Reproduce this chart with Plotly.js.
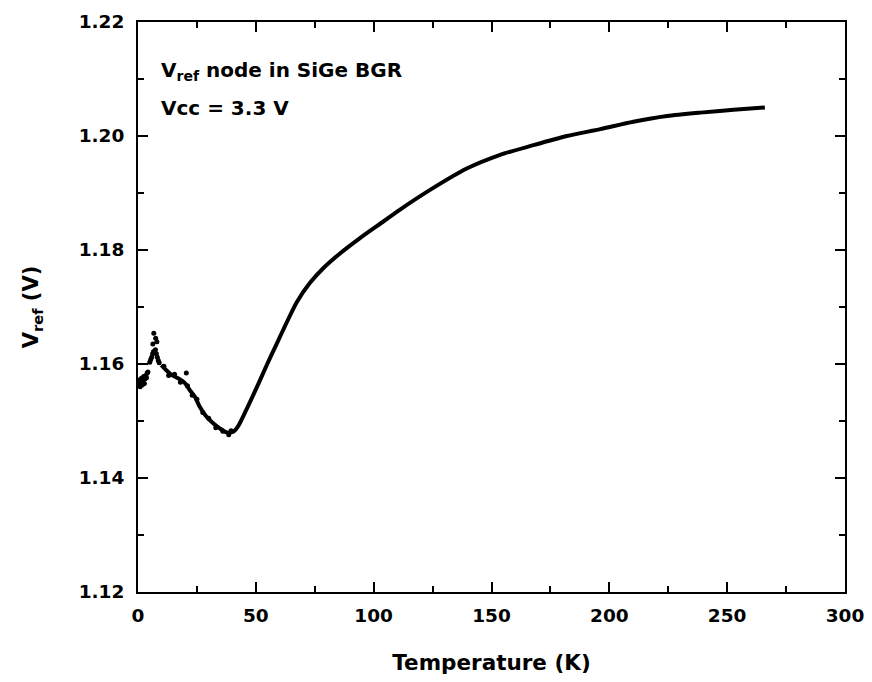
<!DOCTYPE html>
<html>
<head>
<meta charset="utf-8">
<script src="https://cdn.plot.ly/plotly-3.0.1.min.js"></script>
<style>html,body{margin:0;padding:0;background:#fff;}</style>
</head>
<body>
<div id="chart" style="width:872px;height:682px;"></div>
<script>
// Smooth part of the measured curve (Temperature K, Vref V)
const tempSmooth = [9.9,12,14.2,17,19.8,22,24.1,26.2,29,31.9,34.7,37.6,40.4,42.5,46,50.3,54.5,58.8,63,67.3,72.9,78.6,85.7,94.2,104.1,111.2,125.3,139.5,153.7,167.8,182,196.1,210.2,224.5,238.6,252.7,266];
const vrefSmooth = [1.1598,1.1589,1.1581,1.1575,1.1567,1.1554,1.1543,1.1525,1.1508,1.1496,1.1487,1.1480,1.1481,1.1491,1.1520,1.1558,1.1597,1.1635,1.1672,1.1708,1.1742,1.1768,1.1794,1.1821,1.1850,1.1871,1.1909,1.1943,1.1967,1.1984,1.2000,1.2012,1.2025,1.2035,1.2041,1.2046,1.2050];

// Noisy low-temperature scatter points
const tempNoisy = [0.3,0.6,0.9,1.2,1.5,1.8,2.1,2.4,2.7,3.0,3.3,3.6,3.9,4.2,5.0,5.4,5.8,6.2,6.6,7.0,7.4,7.8,8.2,8.6,9.0,6.7,6.3,8.0,7.5,20.5,11,13,15.5,18,21,23,25,27.5,30,33,36,38.5,39.5];
const vrefNoisy = [1.1565,1.1572,1.1560,1.1568,1.1575,1.1563,1.1570,1.1578,1.1566,1.1574,1.1580,1.1576,1.1584,1.1586,1.1603,1.1608,1.1612,1.1618,1.1622,1.1620,1.1625,1.1618,1.1612,1.1606,1.1602,1.1654,1.1635,1.1639,1.1645,1.1584,1.1596,1.1580,1.1582,1.1568,1.1562,1.1545,1.1538,1.1515,1.1505,1.1488,1.1482,1.1476,1.1483];

const xTicks = [0,50,100,150,200,250,300];
const yTicks = [1.12,1.14,1.16,1.18,1.20,1.22];
const yTickText = ["1.12","1.14","1.16","1.18","1.20","1.22"];

const FONT = "DejaVu Sans, Arial, sans-serif";

const traces = [
  {x: tempSmooth, y: vrefSmooth, mode: 'lines', line: {color: '#000', width: 4, shape: 'spline', smoothing: 0.7}, hoverinfo: 'skip', showlegend: false},
  {x: tempNoisy, y: vrefNoisy, mode: 'markers', marker: {color: '#000', size: 5}, hoverinfo: 'skip', showlegend: false}
];

const axisCommon = {
  showgrid: false, zeroline: false, showline: true, linecolor: '#000', linewidth: 2,
  mirror: 'ticks', ticks: 'inside', ticklen: 10, tickwidth: 2, tickcolor: '#000',
  tickfont: {family: FONT, size: 18.5, color: '#000', weight: 'bold'},
  minor: {ticks: 'inside', ticklen: 6, tickwidth: 2, tickcolor: '#000'}
};

const layout = {
  width: 872, height: 682,
  margin: {l: 138, r: 27, t: 22, b: 90},
  paper_bgcolor: '#fff', plot_bgcolor: '#fff',
  xaxis: Object.assign({}, axisCommon, {
    range: [0, 300], tickvals: xTicks, ticktext: xTicks.map(String),
    minor: Object.assign({}, axisCommon.minor, {dtick: 25, tick0: 0}),
    ticklabelstandoff: 6,
    title: {text: 'Temperature (K)', font: {family: FONT, size: 21.5, color: '#000', weight: 'bold'}, standoff: 30}
  }),
  yaxis: Object.assign({}, axisCommon, {
    range: [1.12, 1.22], tickvals: yTicks, ticktext: yTickText,
    minor: Object.assign({}, axisCommon.minor, {dtick: 0.01, tick0: 1.12}),
    ticklabelstandoff: 8,
    title: {text: 'V<sub>ref</sub> (V)', font: {family: FONT, size: 21, color: '#000', weight: 'bold'}, standoff: 34}
  }),
  annotations: [
    {xref: 'paper', yref: 'paper', x: 0.03, y: 0.914, xanchor: 'left', yanchor: 'middle', showarrow: false,
     text: 'V<sub>ref</sub> node in SiGe BGR', font: {family: FONT, size: 20, color: '#000', weight: 'bold'}},
    {xref: 'paper', yref: 'paper', x: 0.03, y: 0.85, xanchor: 'left', yanchor: 'middle', showarrow: false,
     text: 'Vcc = 3.3 V', font: {family: FONT, size: 20, color: '#000', weight: 'bold'}}
  ]
};

Plotly.newPlot('chart', traces, layout, {staticPlot: true, displayModeBar: false});
</script>
</body>
</html>
